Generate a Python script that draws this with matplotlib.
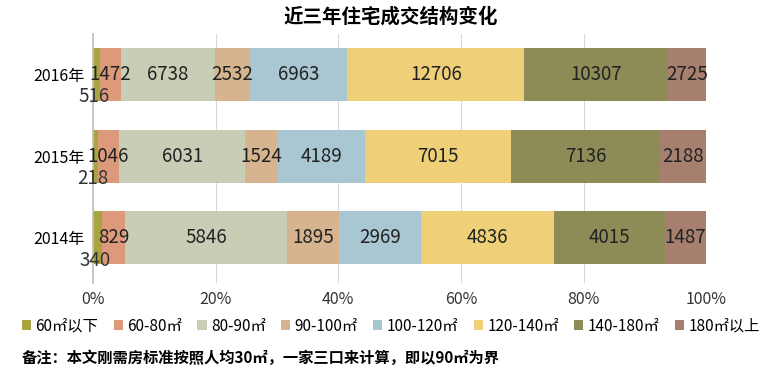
import matplotlib
matplotlib.use("Agg")
import matplotlib.pyplot as plt
import numpy as np

plt.rcParams['font.family'] = ['Noto Sans CJK SC', 'DejaVu Sans']

years = ['2014年', '2015年', '2016年']
categories = ['60㎡以下', '60-80㎡', '80-90㎡', '90-100㎡', '100-120㎡', '120-140㎡', '140-180㎡', '180㎡以上']
values = {
    '60㎡以下': [340, 218, 516],
    '60-80㎡': [829, 1046, 1472],
    '80-90㎡': [5846, 6031, 6738],
    '90-100㎡': [1895, 1524, 2532],
    '100-120㎡': [2969, 4189, 6963],
    '120-140㎡': [4836, 7015, 12706],
    '140-180㎡': [4015, 7136, 10307],
    '180㎡以上': [1487, 2188, 2725],
}
colors = ['#a8a43e', '#dc9a7b', '#c8cdb5', '#d5b48f', '#a9c6d3', '#f0cf79', '#8d8c57', '#a67f6f']

data = np.array([values[c] for c in categories], dtype=float)
totals = data.sum(axis=0)
pct = data / totals * 100

fig = plt.figure(figsize=(7.82, 3.77), dpi=100)
ax = fig.add_axes([0.119, 0.25, 0.784, 0.66])
y = np.arange(len(years))
left = np.zeros(len(years))
for i, c in enumerate(categories):
    ax.barh(y, pct[i], left=left, height=0.65, color=colors[i], label=c, zorder=2)
    for j in range(len(years)):
        cx = left[j] + pct[i, j] / 2
        if i == 0:
            ax.annotate(str(int(data[i, j])), (cx, y[j]), xytext=(-2, -16), textcoords='offset points',
                        ha='center', va='center', fontsize=13.5, color='#333333', zorder=3)
        else:
            ax.text(cx, y[j], str(int(data[i, j])), ha='center', va='center',
                    fontsize=13.5, color='#222222', zorder=3)
    left += pct[i]

ax.set_xlim(0, 100)
ax.set_ylim(-0.55, 2.5)
ax.set_yticks(y)
ax.set_yticklabels(years, fontsize=11.5)
ax.set_xticks([0, 20, 40, 60, 80, 100])
ax.set_xticklabels([f'{v}%' for v in [0, 20, 40, 60, 80, 100]], fontsize=11.5, color='#333333')
ax.grid(axis='x', color='#d9d9d9', lw=0.8, zorder=0)
for s in ['top', 'right', 'bottom']:
    ax.spines[s].set_visible(False)
ax.spines['left'].set_color('#bfbfbf')
ax.spines['left'].set_linewidth(1.2)
ax.tick_params(length=0, pad=6)

fig.text(0.5, 0.955, '近三年住宅成交结构变化', ha='center', va='center', fontsize=14, fontweight='bold')
handles, labels = ax.get_legend_handles_labels()
fig.legend(handles, labels, loc='center', bbox_to_anchor=(0.5, 0.135), ncol=8, frameon=False,
           fontsize=11, handlelength=0.6, handleheight=0.6, handletextpad=0.3, columnspacing=1.0)
fig.text(0.028, 0.05, '备注：本文刚需房标准按照人均30㎡，一家三口来计算，即以90㎡为界',
         ha='left', va='center', fontsize=11, fontweight='bold')

fig.savefig('out.png', dpi=100)
